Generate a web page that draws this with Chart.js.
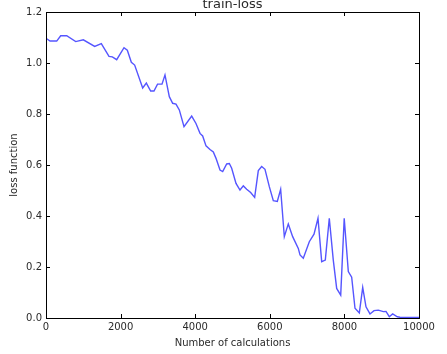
<!DOCTYPE html>
<html>
<head>
<meta charset="utf-8">
<script src="https://cdn.jsdelivr.net/npm/chart.js@4/dist/chart.umd.min.js"></script>
<style>
  html, body { margin: 0; padding: 0; background: #fff; }
  #wrap { width: 447px; height: 354px; position: relative; }
</style>
</head>
<body>
<div id="wrap"><canvas id="c" width="447" height="354"></canvas></div>
<script>
const chartTitle = "train-loss";
const xAxisTitle = "Number of calculations";
const yAxisTitle = "loss function";
const xTicks = [0, 2000, 4000, 6000, 8000, 10000];
const yTicks = [0.0, 0.2, 0.4, 0.6, 0.8, 1.0, 1.2];

const steps = [0, 107, 287, 394, 555, 796, 1001, 1305, 1483, 1689, 1778, 1895, 2091, 2180, 2288, 2377,
  2592, 2690, 2806, 2895, 2990, 3110, 3190, 3306, 3396, 3485, 3574, 3700, 3906, 4021, 4129, 4200,
  4290, 4397, 4486, 4558, 4665, 4737, 4844, 4915, 4978, 5094, 5201, 5290, 5380, 5487, 5594, 5692,
  5782, 5871, 5987, 6094, 6201, 6291, 6389, 6496, 6613, 6764, 6810, 6898, 7059, 7185, 7292, 7391,
  7488, 7595, 7702, 7793, 7901, 7995, 8105, 8195, 8284, 8400, 8491, 8579, 8686, 8794, 8910, 9043,
  9115, 9204, 9294, 9419, 9490, 10000];
const loss = [1.097, 1.086, 1.086, 1.107, 1.107, 1.084, 1.091, 1.065, 1.076, 1.026, 1.024, 1.013, 1.060, 1.050, 1.003, 0.992,
  0.902, 0.921, 0.890, 0.890, 0.917, 0.917, 0.953, 0.868, 0.842, 0.839, 0.816, 0.750, 0.792, 0.763, 0.724, 0.714,
  0.675, 0.661, 0.651, 0.626, 0.580, 0.574, 0.604, 0.606, 0.587, 0.528, 0.502, 0.518, 0.505, 0.492, 0.473, 0.578,
  0.594, 0.583, 0.515, 0.460, 0.457, 0.505, 0.319, 0.369, 0.319, 0.273, 0.247, 0.234, 0.299, 0.329, 0.391, 0.221,
  0.227, 0.391, 0.227, 0.116, 0.090, 0.391, 0.182, 0.160, 0.038, 0.020, 0.120, 0.044, 0.016, 0.029, 0.031, 0.025,
  0.026, 0.005, 0.016, 0.005, 0.003, 0.002];

const points = steps.map((s, i) => ({ x: s, y: loss[i] }));
const FONT = "DejaVu Sans";
const TXT = "#2a2a2a";

const framePlugin = {
  id: "frame",
  afterDatasetsDraw(chart) {
    const { ctx, chartArea: a, scales } = chart;
    ctx.save();
    ctx.strokeStyle = "#000";
    ctx.lineWidth = 1;
    ctx.strokeRect(Math.round(a.left) + 0.5, Math.round(a.top) + 0.5,
                   Math.round(a.right - a.left), Math.round(a.bottom - a.top));
    const L = 4;
    ctx.beginPath();
    xTicks.forEach(v => {
      const px = Math.round(scales.x.getPixelForValue(v)) + 0.5;
      ctx.moveTo(px, a.bottom); ctx.lineTo(px, a.bottom - L);
      ctx.moveTo(px, a.top); ctx.lineTo(px, a.top + L);
    });
    yTicks.forEach(v => {
      const py = Math.round(scales.y.getPixelForValue(v)) + 0.5;
      ctx.moveTo(a.left, py); ctx.lineTo(a.left + L, py);
      ctx.moveTo(a.right, py); ctx.lineTo(a.right - L, py);
    });
    ctx.stroke();
    ctx.fillStyle = TXT;
    ctx.font = "13px '" + FONT + "'";
    ctx.textAlign = "center";
    ctx.textBaseline = "alphabetic";
    ctx.fillText(chartTitle, (a.left + a.right) / 2, 8);
    ctx.restore();
  }
};

new Chart(document.getElementById("c"), {
  type: "line",
  data: {
    datasets: [{
      data: points,
      borderColor: "rgb(85,85,255)",
      borderWidth: 1.4,
      pointRadius: 0,
      fill: false,
      tension: 0
    }]
  },
  options: {
    responsive: false,
    animation: false,
    layout: { padding: { left: 0, right: 28, top: 12, bottom: 0 } },
    plugins: { legend: { display: false }, tooltip: { enabled: false } },
    scales: {
      x: {
        type: "linear",
        min: 0, max: 10000,
        afterBuildTicks(s) { s.ticks = xTicks.map(v => ({ value: v })); },
        afterFit(s) { s.height = 36; },
        grid: { display: false, drawTicks: false },
        border: { display: false },
        ticks: { padding: 3, color: TXT, font: { family: FONT, size: 10 }, maxRotation: 0,
                 callback: v => String(v) },
        title: { display: true, text: xAxisTitle, color: TXT, font: { family: FONT, size: 10 },
                 padding: { top: 0, bottom: 5 } }
      },
      y: {
        type: "linear",
        min: 0, max: 1.2,
        afterBuildTicks(s) { s.ticks = yTicks.map(v => ({ value: v })); },
        afterFit(s) { s.width = 46; },
        grid: { display: false, drawTicks: false },
        border: { display: false },
        ticks: { padding: 4, color: TXT, font: { family: FONT, size: 10 },
                 callback: v => Number(v).toFixed(1) },
        title: { display: true, text: yAxisTitle, color: TXT, font: { family: FONT, size: 10 },
                 padding: { top: 8, bottom: 0 } }
      }
    }
  },
  plugins: [framePlugin]
});
</script>
</body>
</html>
